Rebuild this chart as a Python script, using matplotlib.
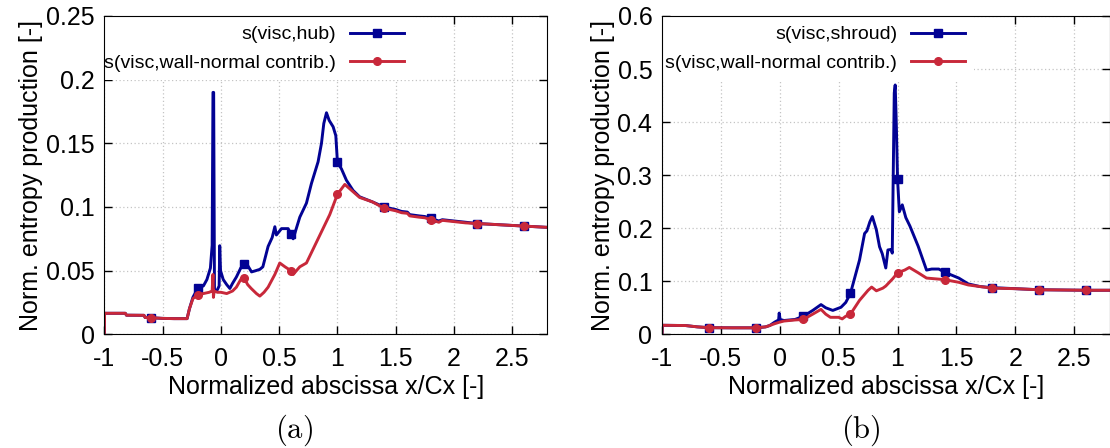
import numpy as np
import matplotlib
matplotlib.use("Agg")
from matplotlib import pyplot as plt
from matplotlib.ticker import FormatStrFormatter

matplotlib.rcParams.update({'font.family': 'Liberation Sans', 'font.size': 18,
                            'axes.unicode_minus': False, 'mathtext.fontset': 'cm'})

# marker positions (gnuplot pointinterval style)
mark_x = [-0.6, -0.2, 0.2, 0.6, 1.0, 1.4, 1.8, 2.2, 2.6]

# (a) hub
hub_x = [-1.0, -0.998, -0.82, -0.81, -0.66, -0.65, -0.6, -0.5, -0.4, -0.29, -0.27, -0.24, -0.2,
         -0.15, -0.12, -0.09, -0.075, -0.068, -0.062, -0.055, -0.03, -0.015, -0.01, -0.003, 0.02,
         0.05, 0.077, 0.1, 0.133, 0.17, 0.2, 0.23, 0.263, 0.3, 0.334, 0.36, 0.405, 0.44, 0.463,
         0.476, 0.52, 0.577, 0.6, 0.62, 0.677, 0.734, 0.777, 0.834, 0.863, 0.883, 0.906, 0.929,
         0.963, 0.986, 1.0, 1.034, 1.077, 1.134, 1.19, 1.3, 1.4, 1.5, 1.55, 1.6, 1.62, 1.7, 1.75, 1.8,
         1.87, 1.9, 2.0, 2.1, 2.2, 2.4, 2.6, 2.8]
hub_y = [0.0, 0.0165, 0.0165, 0.0150, 0.0149, 0.0132, 0.0130, 0.0125, 0.0123, 0.0123, 0.020, 0.029, 0.036,
         0.038, 0.043, 0.052, 0.070, 0.190, 0.190, 0.034, 0.035, 0.038, 0.0696, 0.050, 0.043,
         0.039, 0.036, 0.040, 0.045, 0.052, 0.055, 0.054, 0.049, 0.050, 0.051, 0.053, 0.069, 0.076, 0.0845,
         0.078, 0.083, 0.083, 0.079, 0.075, 0.092, 0.103, 0.1185, 0.1355, 0.150, 0.1656, 0.174, 0.168,
         0.163, 0.156, 0.135, 0.130, 0.121, 0.113, 0.108, 0.104, 0.100, 0.098, 0.0965, 0.096, 0.094, 0.093, 0.0925, 0.091,
         0.089, 0.090, 0.089, 0.088, 0.087, 0.086, 0.085, 0.084]
hub_wn_x = [-1.0, -0.998, -0.82, -0.81, -0.66, -0.65, -0.6, -0.5, -0.4, -0.29, -0.27, -0.24, -0.2,
            -0.15, -0.1, -0.075, -0.068, -0.064, -0.058, -0.03, 0.0, 0.05, 0.1, 0.133, 0.17, 0.191,
            0.2, 0.23, 0.26, 0.305, 0.334, 0.37, 0.405, 0.463, 0.505, 0.55, 0.6, 0.62, 0.677, 0.734,
            0.834, 0.934, 1.0, 1.063, 1.134, 1.19, 1.3, 1.4, 1.5, 1.55, 1.6, 1.62, 1.7, 1.75, 1.8,
            1.87, 1.9, 2.0, 2.1, 2.2, 2.4, 2.6, 2.8]
hub_wn_y = [0.0, 0.0165, 0.0165, 0.0150, 0.0149, 0.0132, 0.0130, 0.0125, 0.0123, 0.0123, 0.020, 0.028, 0.031,
            0.032, 0.033, 0.034, 0.047, 0.029, 0.034, 0.033, 0.033, 0.032, 0.034, 0.037, 0.043, 0.045,
            0.044, 0.039, 0.036, 0.032, 0.030, 0.033, 0.037, 0.047, 0.056, 0.053, 0.050, 0.047, 0.053, 0.056,
            0.075, 0.094, 0.110, 0.1177, 0.112, 0.1075, 0.104, 0.099, 0.097, 0.0955, 0.095, 0.093, 0.092, 0.0915, 0.090,
            0.088, 0.0895, 0.0885, 0.0875, 0.087, 0.086, 0.085, 0.084]

# (b) shroud
shr_x = [-1.0, -0.998, -0.8, -0.7, -0.6, -0.4, -0.2, -0.12, -0.085, -0.043, -0.01, -0.005, 0.003,
         0.036, 0.13, 0.2, 0.28, 0.35, 0.39, 0.45, 0.52, 0.56, 0.6, 0.677, 0.72, 0.74, 0.765, 0.786,
         0.82, 0.847, 0.87, 0.9, 0.918, 0.946, 0.955, 0.972, 0.98, 0.99, 1.0, 1.015, 1.04, 1.07, 1.105,
         1.175, 1.246, 1.29, 1.35, 1.4, 1.52, 1.6, 1.7, 1.8, 2.0, 2.2, 2.6, 2.8]
shr_y = [0.0, 0.017, 0.0165, 0.014, 0.0125, 0.0122, 0.0122, 0.014, 0.0166, 0.023, 0.027, 0.040, 0.028,
         0.026, 0.028, 0.034, 0.045, 0.056, 0.050, 0.045, 0.051, 0.060, 0.077, 0.140, 0.190, 0.195, 0.212, 0.222,
         0.197, 0.165, 0.152, 0.125, 0.159, 0.160, 0.153, 0.455, 0.470, 0.391, 0.292, 0.231, 0.244, 0.220, 0.204,
         0.166, 0.121, 0.123, 0.123, 0.117, 0.106, 0.095, 0.090, 0.088, 0.086, 0.084, 0.083, 0.083]
shr_wn_x = [-1.0, -0.998, -0.8, -0.7, -0.6, -0.4, -0.2, -0.12, -0.085, -0.043, 0.0, 0.036, 0.13,
            0.2, 0.28, 0.35, 0.39, 0.43, 0.5, 0.53, 0.56, 0.6, 0.677, 0.75, 0.78, 0.82, 0.875, 0.9,
            0.96, 1.0, 1.06, 1.1, 1.175, 1.246, 1.35, 1.4, 1.52, 1.6, 1.7, 1.8, 2.0, 2.2, 2.6, 2.8]
shr_wn_y = [0.0, 0.017, 0.0165, 0.014, 0.0125, 0.0122, 0.0122, 0.014, 0.0166, 0.020, 0.023, 0.025, 0.027,
            0.028, 0.038, 0.047, 0.038, 0.032, 0.032, 0.029, 0.034, 0.038, 0.064, 0.083, 0.089, 0.082, 0.087, 0.091,
            0.105, 0.116, 0.121, 0.126, 0.116, 0.106, 0.104, 0.103, 0.098, 0.093, 0.090, 0.087, 0.086, 0.084, 0.083, 0.083]

blue = '#020294'
red = '#c8283a'


def marks(xs):
    xs = np.asarray(xs)
    return [int(np.argmin(np.abs(xs - m))) for m in mark_x]


def panel(ax, x1, y1, lab1, x2, y2, lab2, ymax, ystep):
    ax.plot(x1, y1, color=blue, lw=2.1, marker='s', ms=6, markevery=marks(x1), label=lab1)
    ax.plot(x2, y2, color=red, lw=2.1, marker='o', ms=5.5, markevery=marks(x2), label=lab2)
    ax.set_xlim(-1, 2.8)
    ax.set_ylim(0, ymax)
    ax.set_xticks(np.arange(-1, 2.6, 0.5))
    ax.set_yticks(np.arange(0, ymax + 1e-9, ystep))
    ax.xaxis.set_major_formatter(FormatStrFormatter('%g'))
    ax.yaxis.set_major_formatter(FormatStrFormatter('%g'))
    ax.tick_params(direction='in', top=True, right=True, length=5.5, width=1)
    ax.tick_params(axis='x', pad=9)
    ax.tick_params(axis='y', pad=7)
    ax.grid(True, color='#c4c4c4', linestyle=(0, (1, 2)), linewidth=0.9)
    ax.set_xlabel("Normalized abscissa x/Cx [-]", labelpad=3)
    ax.set_ylabel("Norm. entropy production [-]", labelpad=2)
    leg = ax.legend(loc='upper right', bbox_to_anchor=(0.697, 0.997), borderaxespad=0,
                    markerfirst=False, fontsize=14, handlelength=2.8, handletextpad=0.7,
                    labelspacing=0.55, borderpad=0.45, frameon=True, fancybox=False,
                    framealpha=1, edgecolor='none', facecolor='white')
    leg.set_zorder(2.2)


fig = plt.figure(figsize=(11.1, 4.48), dpi=100)
ax1 = fig.add_axes([0.094, 0.2538, 0.399, 0.7105])
ax2 = fig.add_axes([0.5964, 0.2538, 0.4032, 0.7105])

panel(ax1, hub_x, hub_y, "s(visc,hub)", hub_wn_x, hub_wn_y, "s(visc,wall-normal contrib.)", 0.25, 0.05)
panel(ax2, shr_x, shr_y, "s(visc,shroud)", shr_wn_x, shr_wn_y, "s(visc,wall-normal contrib.)", 0.6, 0.1)

fig.text(294 / 1110, 1 - 430 / 448, r'$\mathrm{(a)}$', ha='center', va='center', fontsize=22)
fig.text(861 / 1110, 1 - 430 / 448, r'$\mathrm{(b)}$', ha='center', va='center', fontsize=22)

fig.savefig("out.png", dpi=100)
